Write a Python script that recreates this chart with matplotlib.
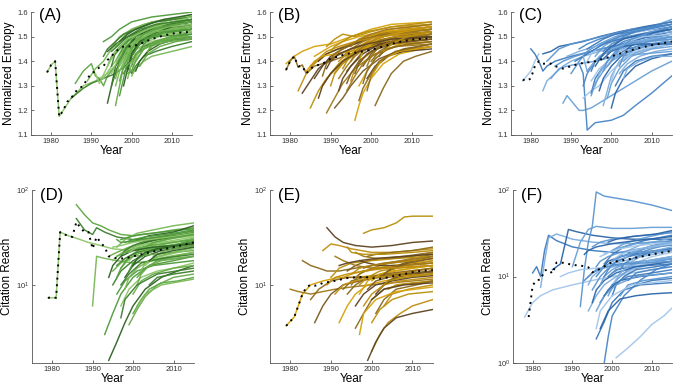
import matplotlib
matplotlib.use("Agg")
import matplotlib.pyplot as plt
from matplotlib.ticker import LogLocator, LogFormatterMathtext, NullLocator

plt.rcParams['font.family'] = ['Liberation Sans', 'DejaVu Sans']

# ---- data (year, value) pairs per trajectory ----

# (A) normalized entropy, green
a_lines = [
    ([1979, 1980, 1981, 1982, 1983, 1985, 1988, 1991, 1994, 1997, 2000, 2005, 2010, 2015],
     [1.355, 1.385, 1.40, 1.175, 1.20, 1.25, 1.30, 1.32, 1.35, 1.40, 1.44, 1.48, 1.50, 1.51]),
    ([1986, 1988, 1990, 1991, 1992, 1993, 1994, 1996, 1998, 2001, 2005, 2010, 2015],
     [1.31, 1.36, 1.39, 1.34, 1.33, 1.30, 1.34, 1.38, 1.43, 1.47, 1.50, 1.52, 1.53]),
    ([1985, 1988, 1990, 1993, 1996, 1999, 2002, 2006, 2010, 2015],
     [1.25, 1.29, 1.31, 1.33, 1.35, 1.39, 1.44, 1.48, 1.50, 1.52]),
    ([1989, 1991, 1993, 1995, 1997, 2000, 2005, 2010, 2015],
     [1.32, 1.37, 1.40, 1.45, 1.48, 1.51, 1.54, 1.56, 1.57]),
    ([1993, 1995, 1997, 2000, 2005, 2010, 2015], [1.48, 1.50, 1.53, 1.56, 1.58, 1.59, 1.60]),
    ([1994, 1995, 1996, 1998, 2001, 2005, 2010, 2015], [1.23, 1.30, 1.38, 1.45, 1.50, 1.53, 1.55, 1.56]),
    ([1996, 1997, 1998, 2000, 2003, 2007, 2015], [1.22, 1.30, 1.38, 1.45, 1.50, 1.53, 1.55]),
    ([1995, 1997, 1999, 2002, 2006, 2010, 2015], [1.35, 1.42, 1.48, 1.52, 1.55, 1.57, 1.58]),
    ([1997, 1998, 2000, 2003, 2007, 2015], [1.32, 1.38, 1.44, 1.48, 1.51, 1.53]),
    ([1998, 1999, 2000, 2001, 2003, 2006, 2010, 2015], [1.35, 1.38, 1.35, 1.38, 1.42, 1.44, 1.46, 1.48]),
    ([2000, 2001, 2003, 2005, 2010, 2015], [1.34, 1.37, 1.40, 1.42, 1.44, 1.46]),
    ([1996, 1998, 2000, 2004, 2010, 2015], [1.40, 1.46, 1.50, 1.53, 1.55, 1.56]),
    ([1999, 2000, 2002, 2005, 2010, 2015], [1.36, 1.42, 1.47, 1.50, 1.52, 1.53]),
    ([1997, 1999, 2002, 2006, 2010, 2015], [1.45, 1.49, 1.52, 1.54, 1.56, 1.57]),
    ([1995, 1997, 2000, 2004, 2010, 2015], [1.41, 1.45, 1.48, 1.50, 1.52, 1.53]),
    ([1998, 2000, 2002, 2006, 2010, 2015], [1.40, 1.45, 1.49, 1.51, 1.53, 1.54]),
    ([2000, 2001, 2003, 2006, 2010, 2015], [1.38, 1.43, 1.46, 1.48, 1.49, 1.50]),
    ([1999, 2000, 2002, 2005, 2010, 2015], [1.33, 1.39, 1.44, 1.47, 1.49, 1.50]),
    ([1996, 1998, 2001, 2005, 2010, 2015], [1.36, 1.42, 1.47, 1.51, 1.53, 1.55]),
    ([1994, 1996, 1999, 2003, 2008, 2015], [1.44, 1.47, 1.50, 1.53, 1.55, 1.57]),
    ([2001, 2003, 2006, 2010, 2015], [1.40, 1.45, 1.48, 1.50, 1.51]),
    ([1997, 1999, 2001, 2005, 2010, 2015], [1.38, 1.43, 1.47, 1.50, 1.51, 1.52]),
    ([2002, 2004, 2007, 2011, 2015], [1.38, 1.43, 1.46, 1.48, 1.49]),
    ([1998, 2000, 2003, 2007, 2015], [1.44, 1.48, 1.51, 1.53, 1.55]),
    ([1995, 1997, 2000, 2005, 2010, 2015], [1.46, 1.50, 1.53, 1.56, 1.57, 1.59]),
    ([2000, 2002, 2005, 2010, 2015], [1.42, 1.47, 1.50, 1.52, 1.54]),
    ([1999, 2001, 2004, 2009, 2015], [1.45, 1.50, 1.53, 1.55, 1.56]),
    ([2003, 2005, 2008, 2015], [1.42, 1.46, 1.49, 1.51]),
    ([1993, 1995, 1997, 2000, 2005, 2015], [1.33, 1.38, 1.42, 1.47, 1.52, 1.55]),
    ([1996, 1998, 2001, 2006, 2015], [1.43, 1.47, 1.50, 1.52, 1.53]),
    ([1995, 1996, 1998, 2000, 2004, 2009, 2015], [1.38, 1.44, 1.47, 1.50, 1.53, 1.55, 1.57]),
    ([1996, 1997, 1999, 2001, 2005, 2010, 2015], [1.30, 1.36, 1.43, 1.47, 1.51, 1.53, 1.54]),
    ([1997, 1998, 1999, 2001, 2004, 2010, 2015], [1.26, 1.33, 1.40, 1.46, 1.50, 1.52, 1.53]),
    ([1998, 1999, 2000, 2002, 2005, 2010, 2015], [1.30, 1.37, 1.43, 1.48, 1.51, 1.54, 1.55]),
    ([1999, 2000, 2001, 2003, 2007, 2015], [1.40, 1.45, 1.48, 1.51, 1.54, 1.56]),
    ([2000, 2001, 2002, 2004, 2008, 2015], [1.36, 1.41, 1.45, 1.48, 1.51, 1.52]),
    ([1994, 1995, 1997, 1999, 2002, 2007, 2015], [1.38, 1.42, 1.46, 1.49, 1.52, 1.55, 1.57]),
    ([1995, 1996, 1997, 1999, 2003, 2008, 2015], [1.30, 1.35, 1.40, 1.46, 1.51, 1.54, 1.56]),
    ([1996, 1998, 2000, 2003, 2008, 2015], [1.46, 1.50, 1.53, 1.55, 1.57, 1.58]),
    ([1997, 1998, 2000, 2002, 2006, 2015], [1.40, 1.44, 1.47, 1.49, 1.50, 1.51]),
    ([2001, 2002, 2004, 2007, 2011, 2015], [1.36, 1.40, 1.44, 1.47, 1.49, 1.49]),
    ([1998, 2000, 2001, 2004, 2009, 2015], [1.37, 1.40, 1.43, 1.46, 1.48, 1.49]),
    ([1999, 2000, 2002, 2005, 2009, 2015], [1.44, 1.47, 1.50, 1.52, 1.54, 1.55]),
    ([2000, 2001, 2003, 2006, 2011, 2015], [1.45, 1.48, 1.51, 1.53, 1.55, 1.56]),
    ([1993, 1994, 1996, 1998, 2001, 2006, 2015], [1.42, 1.45, 1.48, 1.51, 1.53, 1.56, 1.58]),
    ([1996, 1997, 1999, 2002, 2006, 2015], [1.33, 1.39, 1.45, 1.49, 1.52, 1.54]),
    ([2002, 2003, 2005, 2008, 2015], [1.44, 1.47, 1.50, 1.52, 1.53]),
    ([1997, 1999, 2001, 2004, 2008, 2015], [1.48, 1.51, 1.53, 1.55, 1.57, 1.59]),
    ([2004, 2005, 2008, 2012, 2015], [1.44, 1.47, 1.49, 1.50, 1.50]),
    ([1991, 1992, 1994, 1996, 1999, 2004, 2010, 2015], [1.35, 1.31, 1.38, 1.44, 1.49, 1.53, 1.56, 1.58]),
    ([1999, 2000, 2001, 2003, 2007, 2015], [1.35, 1.36, 1.40, 1.45, 1.48, 1.50]),
    ([1995, 1997, 1999, 2002, 2006, 2015], [1.44, 1.47, 1.50, 1.53, 1.55, 1.57]),
]
a_mean_years = [1979, 1980, 1981, 1982, 1983, 1984, 1985, 1986, 1987, 1988, 1989, 1990, 1991,
                1992, 1993, 1994, 1995, 1996, 1997, 1998, 2000, 2002, 2005, 2008, 2011, 2015]
a_mean = [1.355, 1.385, 1.40, 1.175, 1.20, 1.235, 1.25, 1.275, 1.29, 1.30, 1.33, 1.35, 1.36,
          1.375, 1.38, 1.405, 1.42, 1.44, 1.45, 1.46, 1.46, 1.47, 1.49, 1.505, 1.515, 1.52]

# (B) normalized entropy, gold
b_lines = [
    ([1979, 1981, 1983, 1986, 1990, 1995, 2000, 2005, 2015], [1.39, 1.42, 1.44, 1.46, 1.47, 1.50, 1.53, 1.55, 1.56]),
    ([1979, 1980, 1981, 1982, 1983, 1984, 1986, 1990, 1995, 2000, 2005, 2010, 2015],
     [1.365, 1.40, 1.42, 1.375, 1.385, 1.35, 1.38, 1.40, 1.43, 1.46, 1.48, 1.49, 1.50]),
    ([1982, 1984, 1986, 1989, 1993, 1998, 2004, 2015], [1.28, 1.35, 1.39, 1.43, 1.46, 1.49, 1.52, 1.54]),
    ([1983, 1985, 1987, 1990, 1995, 2000, 2007, 2015], [1.27, 1.32, 1.37, 1.41, 1.45, 1.48, 1.50, 1.51]),
    ([1985, 1987, 1989, 1992, 1996, 2001, 2008, 2015], [1.21, 1.28, 1.33, 1.38, 1.43, 1.47, 1.50, 1.51]),
    ([1989, 1991, 1993, 1996, 2000, 2006, 2015], [1.19, 1.25, 1.31, 1.37, 1.42, 1.46, 1.48]),
    ([1991, 1993, 1995, 1998, 2002, 2008, 2015], [1.21, 1.25, 1.30, 1.36, 1.41, 1.45, 1.47]),
    ([1996, 1997, 1998, 2000, 2003, 2007, 2015], [1.16, 1.22, 1.27, 1.33, 1.39, 1.43, 1.46]),
    ([2001, 2003, 2005, 2008, 2011, 2015], [1.22, 1.29, 1.35, 1.40, 1.42, 1.44]),
    ([1989, 1991, 1993, 1996, 2000, 2005, 2015], [1.46, 1.49, 1.51, 1.50, 1.52, 1.54, 1.55]),
    ([1986, 1988, 1990, 1993, 1997, 2003, 2015], [1.33, 1.38, 1.42, 1.45, 1.48, 1.51, 1.53]),
    ([1988, 1990, 1992, 1995, 1999, 2005, 2015], [1.30, 1.35, 1.39, 1.43, 1.46, 1.49, 1.50]),
    ([1992, 1994, 1996, 1999, 2003, 2009, 2015], [1.33, 1.38, 1.42, 1.46, 1.49, 1.51, 1.52]),
    ([1994, 1996, 1998, 2001, 2006, 2015], [1.36, 1.40, 1.44, 1.47, 1.50, 1.52]),
    ([1997, 1999, 2001, 2004, 2009, 2015], [1.30, 1.36, 1.41, 1.45, 1.48, 1.49]),
    ([1999, 2000, 2002, 2005, 2010, 2015], [1.28, 1.34, 1.39, 1.43, 1.45, 1.46]),
    ([1990, 1992, 1995, 1999, 2005, 2015], [1.40, 1.44, 1.47, 1.50, 1.53, 1.55]),
    ([1987, 1989, 1992, 1996, 2001, 2008, 2015], [1.40, 1.43, 1.45, 1.47, 1.50, 1.52, 1.53]),
    ([1995, 1996, 1998, 2001, 2006, 2015], [1.32, 1.37, 1.41, 1.45, 1.48, 1.50]),
    ([1993, 1995, 1998, 2002, 2008, 2015], [1.42, 1.45, 1.48, 1.51, 1.53, 1.54]),
    ([1998, 2000, 2003, 2007, 2015], [1.38, 1.43, 1.47, 1.49, 1.51]),
    ([1984, 1986, 1988, 1991, 1995, 2000, 2006, 2015], [1.36, 1.40, 1.42, 1.43, 1.44, 1.46, 1.47, 1.48]),
    ([2000, 2002, 2005, 2010, 2015], [1.40, 1.44, 1.47, 1.49, 1.50]),
    ([1996, 1998, 2001, 2006, 2015], [1.44, 1.47, 1.50, 1.52, 1.53]),
    ([1999, 2001, 2004, 2008, 2015], [1.33, 1.38, 1.42, 1.44, 1.45]),
    ([1991, 1993, 1996, 2000, 2006, 2015], [1.35, 1.39, 1.43, 1.46, 1.48, 1.49]),
    ([1994, 1996, 1998, 2001, 2006, 2015], [1.28, 1.34, 1.39, 1.43, 1.46, 1.47]),
    ([2002, 2004, 2008, 2015], [1.42, 1.46, 1.49, 1.51]),
    ([1986, 1988, 1990, 1993, 1997, 2003, 2015], [1.42, 1.44, 1.46, 1.48, 1.50, 1.52, 1.54]),
    ([1988, 1989, 1991, 1994, 1998, 2004, 2015], [1.34, 1.39, 1.43, 1.46, 1.49, 1.51, 1.52]),
    ([1990, 1991, 1993, 1996, 2000, 2006, 2015], [1.30, 1.35, 1.40, 1.44, 1.47, 1.50, 1.51]),
    ([1992, 1993, 1995, 1998, 2002, 2008, 2015], [1.28, 1.33, 1.38, 1.43, 1.47, 1.49, 1.50]),
    ([1993, 1994, 1996, 1999, 2003, 2009, 2015], [1.37, 1.40, 1.44, 1.47, 1.50, 1.52, 1.53]),
    ([1995, 1996, 1998, 2001, 2005, 2015], [1.40, 1.43, 1.46, 1.49, 1.51, 1.53]),
    ([1996, 1997, 1999, 2002, 2007, 2015], [1.35, 1.39, 1.43, 1.46, 1.49, 1.50]),
    ([1997, 1998, 2000, 2003, 2008, 2015], [1.40, 1.44, 1.47, 1.50, 1.52, 1.54]),
    ([1998, 1999, 2001, 2004, 2009, 2015], [1.31, 1.36, 1.41, 1.45, 1.47, 1.48]),
    ([1985, 1987, 1989, 1992, 1996, 2002, 2015], [1.38, 1.41, 1.44, 1.46, 1.48, 1.50, 1.52]),
    ([1987, 1988, 1990, 1993, 1997, 2003, 2015], [1.25, 1.30, 1.35, 1.40, 1.44, 1.47, 1.49]),
    ([1990, 1991, 1993, 1995, 1999, 2005, 2015], [1.44, 1.46, 1.48, 1.50, 1.52, 1.54, 1.56]),
    ([1999, 2000, 2002, 2005, 2010, 2015], [1.38, 1.42, 1.46, 1.48, 1.50, 1.51]),
    ([1994, 1995, 1997, 2000, 2005, 2015], [1.31, 1.35, 1.40, 1.44, 1.47, 1.49]),
    ([2000, 2001, 2003, 2007, 2015], [1.33, 1.37, 1.41, 1.44, 1.46]),
    ([1997, 1998, 2000, 2002, 2006, 2015], [1.24, 1.29, 1.35, 1.40, 1.44, 1.47]),
    ([1992, 1994, 1997, 2001, 2007, 2015], [1.40, 1.43, 1.46, 1.49, 1.52, 1.54]),
    ([1989, 1990, 1992, 1995, 1999, 2005, 2015], [1.37, 1.40, 1.43, 1.45, 1.47, 1.49, 1.50]),
    ([2003, 2005, 2009, 2015], [1.44, 1.47, 1.50, 1.52]),
    ([1995, 1997, 2000, 2004, 2010, 2015], [1.46, 1.49, 1.51, 1.53, 1.54, 1.55]),
]
b_mean_years = [1979, 1980, 1981, 1982, 1983, 1984, 1985, 1986, 1988, 1990, 1992, 1994, 1996,
                1998, 2000, 2003, 2006, 2010, 2015]
b_mean = [1.365, 1.40, 1.42, 1.38, 1.38, 1.35, 1.37, 1.38, 1.39, 1.41, 1.42, 1.43, 1.435,
          1.44, 1.447, 1.46, 1.475, 1.488, 1.494]

# (C) normalized entropy, blue
c_lines = [
    ([1978, 1980, 1981, 1982], [1.32, 1.36, 1.40, 1.43]),
    ([1980, 1981, 1982, 1983, 1984, 1986, 1990, 1995, 2000, 2006, 2015],
     [1.45, 1.43, 1.40, 1.36, 1.38, 1.40, 1.42, 1.44, 1.46, 1.48, 1.50]),
    ([1983, 1984, 1986, 1988, 1990, 1993, 1997, 2002, 2010, 2015],
     [1.28, 1.32, 1.35, 1.38, 1.40, 1.42, 1.44, 1.46, 1.48, 1.49]),
    ([1983, 1985, 1987, 1990, 1993, 1997, 2002, 2008, 2015], [1.43, 1.44, 1.46, 1.47, 1.48, 1.50, 1.52, 1.54, 1.56]),
    ([1984, 1987, 1990, 1995, 2000, 2005, 2015], [1.40, 1.45, 1.47, 1.49, 1.51, 1.53, 1.55]),
    ([1988, 1989, 1990, 1991, 1992, 1993, 1995, 1998, 2001, 2005, 2010, 2015],
     [1.23, 1.26, 1.24, 1.22, 1.20, 1.20, 1.21, 1.24, 1.27, 1.31, 1.36, 1.40]),
    ([1992, 1993, 1994, 1996, 2000, 2003, 2006, 2010, 2015], [1.39, 1.35, 1.12, 1.15, 1.16, 1.18, 1.22, 1.27, 1.34]),
    ([1993, 1995, 1997, 2000, 2004, 2010, 2015], [1.25, 1.28, 1.30, 1.36, 1.42, 1.46, 1.48]),
    ([1995, 1996, 1998, 2001, 2005, 2015], [1.27, 1.33, 1.38, 1.43, 1.47, 1.50]),
    ([1998, 1999, 2000, 2002, 2006, 2015], [1.22, 1.28, 1.34, 1.40, 1.45, 1.49]),
    ([2000, 2001, 2003, 2006, 2010, 2015], [1.21, 1.27, 1.33, 1.38, 1.41, 1.43]),
    ([1990, 1992, 1994, 1997, 2001, 2007, 2015], [1.35, 1.40, 1.44, 1.47, 1.50, 1.53, 1.55]),
    ([1996, 1998, 2001, 2005, 2010, 2015], [1.42, 1.46, 1.49, 1.52, 1.54, 1.57]),
    ([1992, 1994, 1997, 2001, 2006, 2015], [1.45, 1.47, 1.49, 1.51, 1.52, 1.54]),
    ([1997, 1999, 2002, 2006, 2015], [1.35, 1.40, 1.44, 1.47, 1.50]),
    ([1999, 2001, 2004, 2009, 2015], [1.38, 1.42, 1.45, 1.47, 1.48]),
    ([2002, 2004, 2007, 2011, 2015], [1.35, 1.39, 1.42, 1.44, 1.45]),
    ([1994, 1996, 1999, 2003, 2009, 2015], [1.36, 1.40, 1.44, 1.47, 1.50, 1.52]),
    ([1986, 1988, 1991, 1995, 2000, 2007, 2015], [1.38, 1.40, 1.42, 1.44, 1.46, 1.48, 1.50]),
    ([2003, 2005, 2009, 2015], [1.40, 1.43, 1.45, 1.47]),
    ([1998, 2000, 2004, 2010, 2015], [1.44, 1.47, 1.50, 1.52, 1.53]),
    ([1995, 1997, 2000, 2004, 2010, 2015], [1.32, 1.37, 1.41, 1.44, 1.46, 1.47]),
    ([2001, 2003, 2006, 2010, 2015], [1.30, 1.36, 1.40, 1.42, 1.43]),
    ([1989, 1992, 1996, 2000, 2005, 2015], [1.42, 1.44, 1.46, 1.48, 1.50, 1.52]),
    ([2004, 2007, 2011, 2015], [1.45, 1.49, 1.52, 1.54]),
    ([1997, 1999, 2002, 2008, 2015], [1.41, 1.44, 1.46, 1.48, 1.49]),
    ([1985, 1987, 1989, 1992, 1996, 2001, 2008, 2015], [1.33, 1.37, 1.38, 1.39, 1.40, 1.42, 1.43, 1.44]),
    ([1993, 1994, 1996, 1999, 2003, 2009, 2015], [1.30, 1.35, 1.40, 1.44, 1.48, 1.51, 1.53]),
    ([1994, 1995, 1997, 2000, 2004, 2010, 2015], [1.40, 1.43, 1.46, 1.49, 1.51, 1.53, 1.55]),
    ([1995, 1996, 1998, 2001, 2006, 2015], [1.36, 1.40, 1.43, 1.46, 1.49, 1.51]),
    ([1996, 1997, 1999, 2002, 2007, 2015], [1.30, 1.35, 1.40, 1.45, 1.48, 1.50]),
    ([1997, 1998, 2000, 2003, 2008, 2015], [1.28, 1.33, 1.38, 1.43, 1.46, 1.48]),
    ([1998, 1999, 2001, 2004, 2009, 2015], [1.36, 1.40, 1.44, 1.47, 1.49, 1.51]),
    ([1999, 2000, 2002, 2005, 2010, 2015], [1.25, 1.31, 1.37, 1.42, 1.45, 1.46]),
    ([1999, 2001, 2003, 2006, 2011, 2015], [1.43, 1.47, 1.50, 1.52, 1.54, 1.55]),
    ([2000, 2001, 2003, 2006, 2011, 2015], [1.32, 1.37, 1.41, 1.44, 1.46, 1.47]),
    ([1991, 1993, 1995, 1998, 2002, 2008, 2015], [1.40, 1.42, 1.44, 1.47, 1.49, 1.51, 1.53]),
    ([1993, 1994, 1995, 1997, 2000, 2005, 2015], [1.42, 1.36, 1.38, 1.42, 1.45, 1.48, 1.50]),
    ([1996, 1998, 2000, 2003, 2008, 2015], [1.38, 1.43, 1.46, 1.49, 1.51, 1.53]),
    ([2002, 2003, 2005, 2009, 2015], [1.38, 1.42, 1.45, 1.48, 1.50]),
    ([1995, 1996, 1998, 2000, 2004, 2010, 2015], [1.26, 1.31, 1.36, 1.40, 1.44, 1.47, 1.48]),
    ([1997, 1999, 2002, 2006, 2012, 2015], [1.46, 1.48, 1.50, 1.52, 1.54, 1.55]),
    ([2001, 2002, 2004, 2008, 2015], [1.42, 1.45, 1.48, 1.50, 1.51]),
    ([1994, 1996, 1998, 2001, 2006, 2015], [1.45, 1.47, 1.49, 1.51, 1.53, 1.56]),
    ([2003, 2004, 2007, 2011, 2015], [1.33, 1.37, 1.40, 1.42, 1.42]),
    ([1998, 2000, 2003, 2007, 2015], [1.41, 1.44, 1.46, 1.47, 1.47]),
    ([2000, 2002, 2005, 2010, 2015], [1.40, 1.45, 1.49, 1.52, 1.54]),
]
c_mean_years = [1978, 1979, 1980, 1981, 1982, 1983, 1984, 1985, 1986, 1988, 1990, 1992, 1994,
                1996, 1998, 2000, 2003, 2006, 2010, 2015]
c_mean = [1.325, 1.32, 1.33, 1.38, 1.40, 1.39, 1.39, 1.39, 1.38, 1.37, 1.38, 1.39, 1.395,
          1.40, 1.41, 1.42, 1.435, 1.45, 1.465, 1.48]

# (D) citation reach, green
d_lines = [
    ([1979, 1981, 1982, 1984, 1986, 1989, 1992, 1995, 2000, 2005, 2010, 2015],
     [7.3, 7.3, 36, 33, 31, 28, 26, 24, 23, 24, 25, 27]),
    ([1986, 1988, 1990, 1992, 1994, 1997, 2000, 2005, 2010, 2015], [70, 55, 45, 42, 38, 34, 33, 35, 38, 40]),
    ([1986, 1988, 1990, 1991, 1993, 1996, 2000, 2005, 2010, 2015], [50, 38, 34, 40, 36, 32, 30, 31, 33, 35]),
    ([1990, 1991, 1993, 1996, 2000, 2005, 2010, 2015], [6.0, 20, 19, 18, 17, 18, 19, 20]),
    ([1993, 1995, 1997, 2000, 2004, 2010, 2015], [3.0, 5, 8, 12, 16, 18, 20]),
    ([1994, 1996, 1998, 2000, 2003, 2007, 2011, 2015], [1.6, 2.5, 4, 6, 9, 12, 14, 16]),
    ([1999, 2001, 2003, 2006, 2010, 2015], [3.8, 5.5, 7.5, 10, 12, 13]),
    ([1997, 1999, 2002, 2006, 2010, 2015], [6, 9, 12, 14, 15, 17]),
    ([2000, 2002, 2004, 2007, 2011, 2015], [5, 7, 9, 10.5, 11, 12]),
    ([1995, 1997, 2000, 2004, 2010, 2015], [10, 14, 18, 22, 26, 30]),
    ([1996, 1998, 2001, 2005, 2010, 2015], [25, 30, 35, 38, 42, 45]),
    ([1997, 1999, 2002, 2006, 2010, 2015], [15, 20, 24, 28, 32, 36]),
    ([1998, 2000, 2003, 2007, 2015], [12, 16, 20, 23, 26]),
    ([1994, 1996, 1999, 2003, 2010, 2015], [20, 22, 25, 28, 32, 34]),
    ([1999, 2001, 2004, 2008, 2015], [18, 22, 25, 28, 30]),
    ([2001, 2003, 2006, 2010, 2015], [12, 15, 18, 20, 22]),
    ([1996, 1998, 2001, 2005, 2010, 2015], [16, 19, 22, 24, 26, 29]),
    ([2002, 2004, 2008, 2015], [20, 24, 27, 31]),
    ([1997, 1999, 2002, 2007, 2015], [30, 32, 34, 36, 39]),
    ([2000, 2003, 2007, 2015], [25, 28, 31, 35]),
    ([1995, 1997, 2000, 2005, 2010, 2015], [14, 17, 20, 21, 22, 23]),
    ([2003, 2005, 2009, 2015], [16, 19, 21, 24]),
    ([1998, 2000, 2004, 2010, 2015], [22, 24, 26, 28, 30]),
    ([2004, 2006, 2010, 2015], [10, 12, 13, 14]),
    ([1999, 2002, 2008, 2015], [28, 30, 33, 37]),
    ([1996, 1998, 2001, 2005, 2010, 2015], [8, 11, 14, 16, 17, 18]),
    ([2001, 2004, 2010, 2015], [30, 33, 36, 42]),
    ([2005, 2008, 2015], [20, 23, 26]),
    ([1995, 1996, 1998, 2001, 2005, 2010, 2015], [18, 20, 23, 26, 28, 31, 33]),
    ([1996, 1997, 1999, 2002, 2006, 2011, 2015], [12, 15, 19, 22, 25, 27, 29]),
    ([1997, 1998, 2000, 2003, 2008, 2015], [20, 23, 26, 29, 31, 34]),
    ([1998, 1999, 2001, 2004, 2009, 2015], [9, 12, 15, 18, 20, 22]),
    ([1999, 2000, 2002, 2005, 2010, 2015], [14, 17, 20, 23, 25, 27]),
    ([2000, 2001, 2003, 2006, 2011, 2015], [16, 19, 22, 24, 26, 28]),
    ([2001, 2002, 2004, 2007, 2015], [10, 13, 16, 18, 20]),
    ([1995, 1997, 2000, 2004, 2009, 2015], [25, 26, 28, 30, 32, 35]),
    ([1996, 1998, 2001, 2005, 2015], [20, 22, 24, 25, 27]),
    ([1997, 1999, 2002, 2007, 2015], [10, 13, 17, 19, 21]),
    ([2002, 2003, 2006, 2010, 2015], [14, 17, 20, 22, 25]),
    ([1998, 2000, 2003, 2008, 2015], [28, 30, 32, 34, 38]),
    ([1994, 1995, 1997, 2000, 2005, 2015], [12, 16, 20, 23, 25, 27]),
    ([2000, 2002, 2005, 2010, 2015], [8, 11, 13, 15, 16]),
    ([1999, 2001, 2004, 2009, 2015], [22, 25, 27, 29, 32]),
    ([2003, 2005, 2008, 2015], [25, 28, 30, 34]),
    ([1997, 1998, 2001, 2006, 2015], [4.5, 7, 10, 13, 15]),
    ([2001, 2003, 2007, 2015], [6, 8, 10, 11.5]),
    ([1996, 1997, 2000, 2004, 2010, 2015], [30, 28, 29, 31, 34, 37]),
    ([2004, 2006, 2010, 2015], [18, 21, 23, 25]),
]
d_mean_years = [1979, 1980, 1981, 1982, 1983, 1984, 1985, 1986, 1987, 1988, 1989, 1990, 1991,
                1992, 1993, 1994, 1995, 1996, 1998, 2000, 2003, 2006, 2010, 2015]
d_mean = [7.3, 7.4, 7.3, 36, 34, 33, 32, 46, 40, 36, 36, 24, 32,
          28, 25, 20, 19.5, 19, 19, 20, 21.5, 23, 25, 28]

# (E) citation reach, gold
e_lines = [
    ([1979, 1981, 1983, 1985, 1988, 1992, 1996, 2000, 2005, 2010, 2015],
     [3.7, 4.6, 8, 10, 11, 12, 12, 12.5, 13, 14, 15]),
    ([1983, 1985, 1987, 1989, 1992, 1996, 2000, 2005, 2010, 2015], [18, 16, 15, 14, 14, 15, 16, 17, 18, 19]),
    ([1988, 1990, 1992, 1995, 2000, 2005, 2010, 2015], [23, 27, 26, 24, 22, 22, 23, 24]),
    ([1989, 1991, 1993, 1996, 2000, 2005, 2010, 2015], [40, 32, 28, 26, 25, 26, 28, 29]),
    ([1998, 2000, 2003, 2006, 2008, 2010, 2015], [35, 38, 40, 45, 52, 53, 53]),
    ([1980, 1982, 1985, 1988, 1991, 1995, 2000, 2005, 2010, 2015], [9, 8.5, 8, 8.5, 9, 9.5, 10, 10.5, 11, 11.5]),
    ([1986, 1988, 1990, 1993, 1997, 2002, 2008, 2015], [4, 6, 8, 10, 11, 12, 13, 14]),
    ([1992, 1994, 1996, 1999, 2003, 2008, 2015], [4, 6, 8, 10, 11, 12, 13]),
    ([1996, 1998, 2000, 2003, 2007, 2015], [3.5, 5, 7, 9, 10, 11]),
    ([2000, 2002, 2004, 2007, 2010, 2015], [2, 3, 4, 5, 6, 7]),
    ([1999, 2001, 2003, 2006, 2010, 2015], [1.6, 2.5, 3.5, 4.5, 5, 5.5]),
    ([2000, 2002, 2005, 2009, 2015], [4, 5.5, 7, 8, 8.5]),
    ([1995, 1997, 2000, 2004, 2010, 2015], [10, 13, 15, 17, 19, 21]),
    ([1994, 1996, 1999, 2003, 2008, 2015], [14, 16, 18, 19, 20, 22]),
    ([1997, 1999, 2002, 2006, 2010, 2015], [8, 11, 13, 14, 15, 16]),
    ([1993, 1995, 1998, 2002, 2007, 2015], [9, 11, 12, 12.5, 13, 13.5]),
    ([1998, 2000, 2003, 2007, 2015], [6, 8, 10, 11, 12]),
    ([2001, 2003, 2006, 2010, 2015], [8, 10, 12, 13, 14]),
    ([1990, 1992, 1995, 2000, 2006, 2015], [12, 15, 17, 18, 19, 20]),
    ([1996, 1998, 2001, 2005, 2010, 2015], [22, 20, 19, 19, 20, 22]),
    ([2002, 2004, 2008, 2015], [12, 14, 16, 18]),
    ([1999, 2001, 2005, 2010, 2015], [14, 15, 16, 17, 18]),
    ([1985, 1987, 1990, 1994, 2000, 2007, 2015], [7, 9, 11, 12, 12, 12.5, 13]),
    ([2003, 2005, 2009, 2015], [6, 8, 9, 10]),
    ([1997, 1999, 2002, 2007, 2015], [18, 17, 16, 16, 17]),
    ([2004, 2006, 2010, 2015], [9, 10, 10.5, 11]),
    ([1991, 1993, 1996, 2000, 2005, 2015], [20, 18, 16, 15, 15, 16]),
    ([2005, 2008, 2015], [15, 17, 20]),
    ([1993, 1995, 1998, 2002, 2008, 2015], [12, 13, 14, 15, 16, 17]),
    ([1994, 1996, 1999, 2003, 2009, 2015], [8, 10, 12, 13, 14, 15]),
    ([1995, 1997, 2000, 2004, 2010, 2015], [13, 15, 16, 17, 18, 19]),
    ([1996, 1998, 2001, 2005, 2010, 2015], [6, 8, 10, 11, 12, 12.5]),
    ([1997, 1999, 2002, 2006, 2015], [10, 12, 14, 15, 16]),
    ([1998, 2000, 2003, 2008, 2015], [15, 16, 17, 18, 20]),
    ([1999, 2001, 2004, 2009, 2015], [9, 11, 12, 13, 14]),
    ([2000, 2002, 2005, 2010, 2015], [11, 13, 14, 15, 16]),
    ([2001, 2003, 2006, 2011, 2015], [5, 7, 9, 10, 11]),
    ([1991, 1993, 1996, 2000, 2007, 2015], [8, 10, 11, 12, 12.5, 13]),
    ([1992, 1994, 1997, 2001, 2008, 2015], [16, 17, 18, 19, 20, 21]),
    ([2002, 2004, 2008, 2015], [9, 11, 12, 13]),
    ([1996, 1998, 2002, 2008, 2015], [12, 14, 15, 16, 17]),
    ([2003, 2005, 2009, 2015], [13, 15, 17, 19]),
    ([1997, 1998, 2001, 2006, 2015], [3, 5, 7, 8.5, 9.5]),
    ([1999, 2001, 2005, 2010, 2015], [20, 21, 22, 23, 25]),
    ([1989, 1991, 1994, 1998, 2004, 2015], [10, 12, 13, 14, 15, 16]),
    ([2000, 2003, 2008, 2015], [7, 9, 10, 10.5]),
    ([1994, 1995, 1998, 2003, 2010, 2015], [25, 22, 21, 21, 22, 23]),
    ([2004, 2007, 2011, 2015], [11, 13, 14, 15]),
]
e_mean_years = [1979, 1981, 1983, 1984, 1985, 1986, 1987, 1988, 1990, 1992, 1994, 1996, 1998,
                2000, 2002, 2004, 2006, 2008, 2010, 2012, 2015]
e_mean = [3.7, 4.6, 8.0, 9.5, 10, 9.8, 10, 10.5, 10.8, 11.3, 11.8, 12, 12.2,
          11.8, 11.6, 12, 12.5, 13, 13.6, 14, 14.4]

# (F) citation reach, blue
f_lines = [
    ([1978, 1980, 1982, 1985, 1990, 1995, 2000, 2005, 2010, 2015], [3.4, 5, 6, 7, 8, 9, 10, 11, 12, 13]),
    ([1980, 1981, 1982, 1983, 1984, 1986, 1990, 1995, 2000, 2005, 2010, 2015],
     [11, 13, 10, 20, 30, 26, 22, 20, 19, 19, 19, 20]),
    ([1982, 1983, 1984, 1986, 1988, 1990, 1995, 2000, 2005, 2010, 2015], [7.5, 15, 28, 31, 29, 27, 25, 24, 24, 25, 25]),
    ([1985, 1987, 1989, 1991, 1995, 2000, 2005, 2010, 2015], [12, 14, 35, 33, 30, 28, 27, 27, 27]),
    ([1992, 1993, 1994, 1995, 1996, 1998, 2000, 2005, 2010, 2015], [4.5, 12, 25, 38, 95, 85, 82, 75, 67, 58]),
    ([1990, 1992, 1994, 1996, 2000, 2005, 2010, 2015], [13, 25, 35, 38, 36, 36, 37, 37]),
    ([1998, 1999, 2000, 2003, 2007, 2011, 2015], [1.0, 2, 3.5, 6, 9, 12, 14]),
    ([2001, 2004, 2007, 2010, 2013, 2015], [1.15, 1.5, 2, 2.8, 3.5, 4.3]),
    ([1996, 1998, 2000, 2003, 2007, 2015], [1.9, 3, 5, 7, 8, 8.5]),
    ([1994, 1996, 1998, 2001, 2005, 2010, 2015], [4, 6, 8, 10, 12, 14, 15]),
    ([1997, 1999, 2002, 2006, 2010, 2015], [2.5, 4, 5.5, 6, 6.3, 6.5]),
    ([1995, 1997, 2000, 2004, 2010, 2015], [7, 10, 14, 17, 21, 24]),
    ([1999, 2001, 2004, 2008, 2015], [6, 9, 12, 14, 16]),
    ([1996, 1998, 2001, 2005, 2010, 2015], [10, 13, 16, 19, 22, 25]),
    ([2000, 2002, 2005, 2010, 2015], [8, 11, 14, 17, 19]),
    ([1998, 2000, 2003, 2008, 2015], [14, 18, 22, 26, 30]),
    ([2001, 2003, 2007, 2015], [15, 19, 23, 28]),
    ([1997, 1999, 2002, 2007, 2015], [12, 15, 17, 19, 21]),
    ([2002, 2004, 2008, 2015], [6, 8, 9, 10]),
    ([2000, 2003, 2008, 2015], [20, 24, 28, 33]),
    ([1993, 1995, 1998, 2002, 2008, 2015], [9, 11, 13, 14, 15, 16]),
    ([2003, 2006, 2010, 2015], [10, 13, 15, 17]),
    ([1999, 2001, 2005, 2010, 2015], [10, 12, 13, 13.5, 14]),
    ([2004, 2007, 2011, 2015], [14, 17, 20, 22]),
    ([1997, 1999, 2002, 2007, 2015], [5, 7, 9, 10, 11]),
    ([2000, 2003, 2008, 2015], [11, 13, 15, 17]),
    ([1998, 2001, 2006, 2015], [18, 21, 24, 26]),
    ([2005, 2009, 2015], [18, 22, 26]),
    ([1987, 1989, 1992, 1996, 2002, 2010, 2015], [10, 11, 12, 12.5, 13, 14, 14.5]),
    ([2006, 2010, 2015], [8, 9, 9.5]),
    ([1994, 1995, 1997, 2000, 2005, 2010, 2015], [8, 10, 12, 14, 16, 18, 20]),
    ([1995, 1996, 1998, 2001, 2006, 2011, 2015], [5, 7, 9, 11, 13, 14, 15]),
    ([1996, 1997, 1999, 2002, 2007, 2015], [13, 15, 17, 19, 21, 23]),
    ([1997, 1998, 2000, 2003, 2008, 2015], [8, 10, 12, 14, 15, 16]),
    ([1998, 1999, 2001, 2004, 2009, 2015], [10, 12, 15, 17, 19, 21]),
    ([1999, 2000, 2002, 2005, 2010, 2015], [13, 15, 18, 20, 22, 24]),
    ([2000, 2001, 2003, 2006, 2011, 2015], [6, 8, 10, 12, 13, 14]),
    ([2001, 2002, 2004, 2008, 2015], [9, 11, 13, 15, 17]),
    ([1993, 1994, 1996, 2000, 2006, 2015], [18, 20, 22, 24, 26, 29]),
    ([1995, 1997, 2000, 2005, 2015], [22, 25, 27, 29, 32]),
    ([1996, 1998, 2001, 2006, 2015], [4, 6, 8, 10, 11]),
    ([2002, 2003, 2006, 2010, 2015], [12, 14, 17, 19, 21]),
    ([1997, 1999, 2002, 2007, 2015], [17, 19, 21, 23, 25]),
    ([1998, 2000, 2004, 2010, 2015], [6, 8, 10, 11, 12]),
    ([2003, 2005, 2009, 2015], [16, 19, 22, 25]),
    ([1999, 2001, 2005, 2011, 2015], [25, 27, 29, 31, 34]),
    ([1994, 1996, 1999, 2004, 2015], [10, 12, 13, 14, 15]),
    ([2000, 2002, 2006, 2015], [15, 17, 19, 20]),
    ([2004, 2006, 2010, 2015], [9, 11, 12, 13]),
    ([1996, 1997, 2000, 2005, 2015], [2.5, 4, 6, 8, 9]),
]
f_mean_years = [1979, 1980, 1981, 1982, 1983, 1984, 1985, 1986, 1988, 1990, 1992, 1994, 1995,
                1997, 2000, 2003, 2006, 2010, 2015]
f_mean = [3.4, 7.9, 9.1, 9.2, 11.8, 12, 10.8, 14.5, 14.4, 13.6, 13.4, 12.8, 11.2,
          12.3, 14.7, 15.5, 16.5, 18, 19.8]

# ---- styling ----
greens = ['#8cc56a', '#5fa844', '#3d7f2e', '#78b856', '#4f9a3c', '#2e6224', '#6aab4a']
golds = ['#d4a20a', '#8c6a1c', '#c08e10', '#5e4422', '#b8900c', '#a07818', '#7a5a20']
blues = ['#a3c6ea', '#3f7bbd', '#7eaedf', '#2d66a8', '#5b95d0', '#6aa0d6', '#4a86c6']

panels = [
    ('(A)', a_lines, a_mean_years, a_mean, greens, False, [0.0448, 0.653, 0.2327, 0.316]),
    ('(B)', b_lines, b_mean_years, b_mean, golds, False, [0.390, 0.653, 0.234, 0.316]),
    ('(C)', c_lines, c_mean_years, c_mean, blues, False, [0.738, 0.653, 0.2327, 0.316]),
    ('(D)', d_lines, d_mean_years, d_mean, greens, True, [0.046, 0.0668, 0.234, 0.4447]),
    ('(E)', e_lines, e_mean_years, e_mean, golds, True, [0.390, 0.0668, 0.2355, 0.4447]),
    ('(F)', f_lines, f_mean_years, f_mean, blues, True, [0.741, 0.0668, 0.2298, 0.4447]),
]

fig = plt.figure(figsize=(6.92, 3.89), dpi=100)

for label, lines, myears, mvals, palette, is_log, rect in panels:
    ax = fig.add_axes(rect)
    for i, (yrs, vals) in enumerate(lines):
        ax.plot(yrs, vals, color=palette[i % len(palette)], lw=1.05, alpha=0.95)
    ax.plot(myears, mvals, color='black', lw=1.4, linestyle=(0, (1, 2.4)))

    ax.set_xlim(1975, 2015)
    ax.set_xticks([1980, 1990, 2000, 2010])
    if is_log:
        ax.set_yscale('log')
        ax.set_ylim(1.0 if label == '(F)' else 1.5, 100)
        ax.yaxis.set_major_locator(LogLocator(base=10, numticks=5))
        ax.yaxis.set_major_formatter(LogFormatterMathtext())
        ax.yaxis.set_minor_locator(NullLocator())
        ax.set_ylabel('Citation Reach', fontsize=8.5, labelpad=2)
    else:
        ax.set_ylim(1.1, 1.6)
        ax.set_yticks([1.1, 1.2, 1.3, 1.4, 1.5, 1.6])
        ax.set_yticklabels(['1.1', '1.2', '1.3', '1.4', '1.5', '1.6'])
        ax.set_ylabel('Normalized Entropy', fontsize=8.5, labelpad=2)
    ax.set_xlabel('Year', fontsize=8.5, labelpad=0)

    for side in ['top', 'right']:
        ax.spines[side].set_visible(False)
    for side in ['left', 'bottom']:
        ax.spines[side].set_color('#555555')
        ax.spines[side].set_linewidth(0.6)
    ax.tick_params(direction='in', length=2, width=0.5, labelsize=5.5, pad=2, colors='#333333')

    ax.text(0.05, 0.97, label, transform=ax.transAxes, fontsize=12, va='center', ha='left')

fig.savefig('out.png', dpi=100)
